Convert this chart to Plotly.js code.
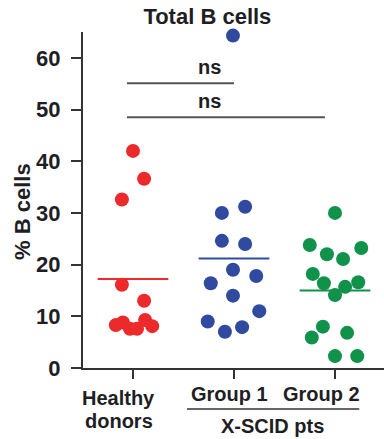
<!DOCTYPE html>
<html>
<head>
<meta charset="utf-8">
<script src="https://cdn.plot.ly/plotly-3.0.1.min.js"></script>
<style>html,body{margin:0;padding:0;background:#fff;}#chart{width:384px;height:439px;}</style>
</head>
<body>
<div id="chart"></div>
<script>
// Data
const categories = ["Healthy<br>donors", "Group 1", "Group 2"];
const groupLabel = "X-SCID pts";
const chartTitle = "Total B cells";
const yTitle = "% B cells";
const yTicks = [0, 10, 20, 30, 40, 50, 60];

const healthyValues = [42.0, 36.6, 32.6, 16.1, 13.0, 8.3, 8.8, 7.6, 7.6, 9.3, 8.1];
const healthyJitter = [0, 0.11, -0.11, -0.11, 0.11, -0.17, -0.10, -0.03, 0.04, 0.12, 0.19];

const group1Values = [64.3, 30.0, 31.2, 24.6, 24.0, 19.0, 16.4, 17.8, 14.0, 11.0, 9.0, 7.0, 7.9];
const group1Jitter = [-0.01, -0.12, 0.11, -0.12, 0.11, -0.01, -0.23, 0.22, -0.01, 0.25, -0.26, -0.09, 0.08];

const group2Values = [30.0, 23.8, 22.0, 21.1, 23.2, 18.2, 16.4, 14.1, 15.7, 16.6, 8.0, 5.9, 6.8, 2.3, 2.3];
const group2Jitter = [0, -0.25, -0.08, 0.08, 0.26, -0.22, -0.11, 0, 0.10, 0.23, -0.12, -0.23, 0.12, 0, 0.22];

const means = [17.2, 21.2, 15.0];
const sigLabels = ["ns", "ns"];
const sigLevels = [55.1, 48.5];

const colors = ["#ec2a2b", "#2f4a9e", "#11924a"];
const FONT = "Liberation Sans, Arial, sans-serif";
const TXT = "#1e1e24";

const groups = [
  {v: healthyValues, j: healthyJitter},
  {v: group1Values, j: group1Jitter},
  {v: group2Values, j: group2Jitter}
];

const traces = [];
groups.forEach((g, i) => {
  traces.push({
    type: "scatter", mode: "markers",
    x: g.v.map((_, k) => i + g.j[k]),
    y: g.v,
    marker: {color: colors[i], size: 14, line: {width: 0}},
    hoverinfo: "y", showlegend: false, cliponaxis: false
  });
  traces.push({
    type: "scatter", mode: "lines",
    x: [i - 0.35, i + 0.35],
    y: [means[i], means[i]],
    line: {color: colors[i], width: 2},
    hoverinfo: "skip", showlegend: false
  });
});

const annotations = [];
const labelX = [-0.14, 0.96, 1.87];
const labelY = [-0.05, -0.04, -0.04];
categories.forEach((c, i) => {
  c.split("<br>").forEach((line, k) => {
    annotations.push({
      text: line, x: labelX[i], xref: "x", y: labelY[i] - k * 0.068, yref: "paper",
      xanchor: "center", yanchor: "top", showarrow: false,
      font: {family: FONT, size: 20, color: TXT, weight: "bold"}
    });
  });
});
annotations.push({
  text: groupLabel, x: 1.38, xref: "x", y: -0.135, yref: "paper",
  xanchor: "center", yanchor: "top", showarrow: false,
  font: {family: FONT, size: 20, color: TXT, weight: "bold"}
});
sigLabels.forEach((s, i) => {
  annotations.push({
    text: s, x: 0.76, xref: "x", y: sigLevels[i] + 0.6, yref: "y",
    xanchor: "center", yanchor: "bottom", showarrow: false,
    font: {family: FONT, size: 20, color: TXT, weight: "bold"}
  });
});
annotations.push({
  text: yTitle, textangle: -90, x: -0.203, xref: "paper", y: 0.467, yref: "paper",
  xanchor: "center", yanchor: "middle", showarrow: false,
  font: {family: FONT, size: 22, color: TXT, weight: "bold"}
});

const shapes = [
  {type: "line", xref: "x", yref: "y", x0: -0.06, x1: 1.0, y0: sigLevels[0], y1: sigLevels[0], line: {color: "#555", width: 2}},
  {type: "line", xref: "x", yref: "y", x0: -0.06, x1: 1.9, y0: sigLevels[1], y1: sigLevels[1], line: {color: "#555", width: 2}},
  {type: "line", xref: "x", yref: "paper", x0: 0.535, x1: 2.24, y0: -0.122, y1: -0.122, line: {color: "#333", width: 1.5}}
];

const layout = {
  width: 384, height: 439,
  margin: {l: 83, r: 0, t: 32, b: 71, pad: 0},
  paper_bgcolor: "#fff", plot_bgcolor: "#fff",
  title: {text: chartTitle, x: 0.54, xanchor: "center", y: 0.962, yanchor: "middle",
          font: {family: FONT, size: 22, color: TXT, weight: "bold"}},
  xaxis: {
    range: [-0.495, 2.485], showgrid: false, zeroline: false,
    showline: true, linecolor: "#333", linewidth: 2,
    tickvals: [0, 1, 2], ticktext: ["", "", ""],
    ticks: "outside", ticklen: 9, tickwidth: 2, tickcolor: "#333",
    fixedrange: true
  },
  yaxis: {
    range: [0, 65], showgrid: false, zeroline: false,
    showline: true, linecolor: "#333", linewidth: 2,
    tickvals: yTicks, ticks: "outside", ticklen: 10, tickwidth: 2, tickcolor: "#333",
    ticklabelstandoff: 6,
    tickfont: {family: FONT, size: 22, color: TXT, weight: "bold"},
    fixedrange: true
  },
  annotations: annotations,
  shapes: shapes,
  showlegend: false
};

Plotly.newPlot("chart", traces, layout, {displayModeBar: false, staticPlot: true});
</script>
</body>
</html>
